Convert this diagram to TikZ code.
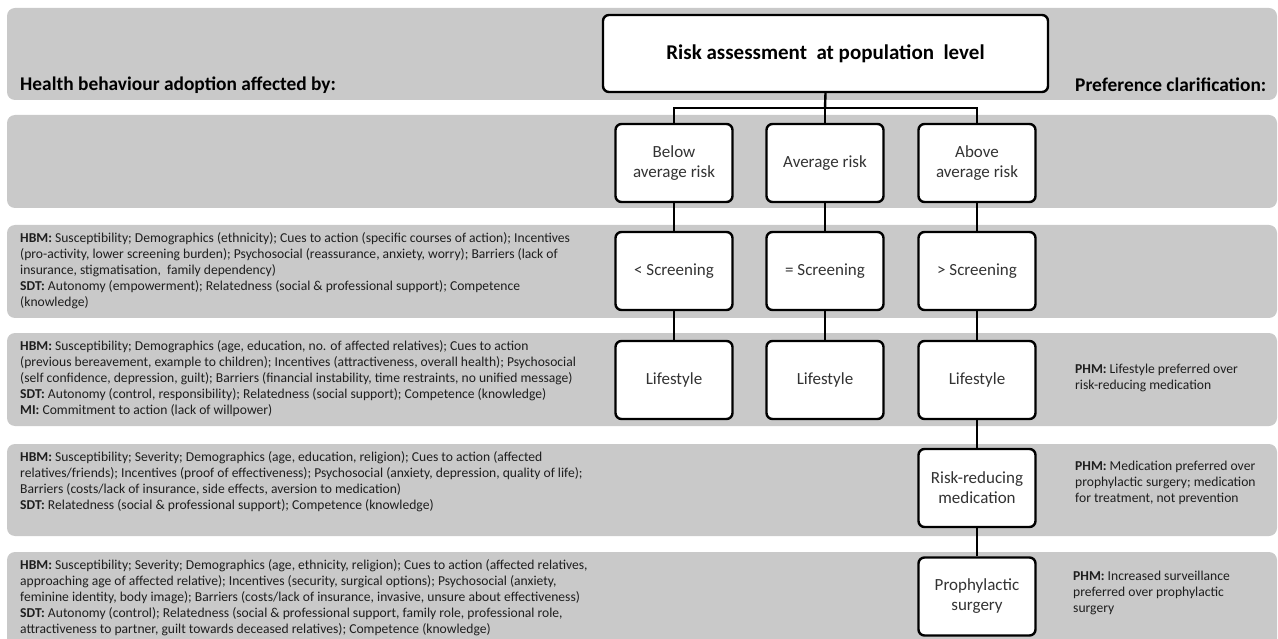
\documentclass[tikz,border=0pt]{standalone}
\usepackage{fontspec}
\setmainfont{Carlito}
\usepackage{tikz}
\usepackage{xcolor}

\begin{document}
\begin{tikzpicture}[x=1pt,y=-1pt,
  riskbox/.style={draw,line width=2.4pt,rounded corners=6pt,fill=white,minimum width=117pt,minimum height=78pt,align=center,text=boxink,font=\fontsize{17}{20}\selectfont},
  bandtext/.style={anchor=north west,inner sep=0pt,align=left,text=bandink,font=\fontsize{13.6}{16}\selectfont},
  headtext/.style={anchor=west,inner sep=0pt,text=black,font=\bfseries\fontsize{19.4}{22}\selectfont},
  link/.style={line width=2.4pt}]
\definecolor{bandgray}{HTML}{C9C9C9}
\definecolor{bandink}{HTML}{1E1E1E}
\definecolor{boxink}{HTML}{333333}
\useasboundingbox (0,0) rectangle (1278,639);
\fill[white] (0,0) rectangle (1278,639);
  \foreach \ytop/\ybot in {8/100,115/208,225/318,333/426,444/536,552/650}
  {  \fill[bandgray,rounded corners=8pt] (7,\ytop) rectangle (1277,\ybot);}

\node[headtext] (hbahead) at (20,85) {Health behaviour adoption affected by:};
\node[headtext] (prefhead) at (1075,85) {Preference clarification:};

\node[riskbox,minimum width=445pt,minimum height=77pt,text=black,font=\bfseries\fontsize{21}{24}\selectfont] (popu) at (825.5,53.5) {Risk assessment\ \ at population\ \ level};

  \foreach \name/\txt/\xpos in {below/{Below\\average risk}/674,avg/{Average risk}/825,above/{Above\\average risk}/977}
  {  \node[riskbox] (\name) at (\xpos,163) {\txt};}
  \foreach \name/\txt/\xpos in {scrlow/{< Screening}/674,scravg/{= Screening}/825,scrhigh/{> Screening}/977}
  {  \node[riskbox] (\name) at (\xpos,271) {\txt};}
  \foreach \name/\xpos in {lifelow/674,lifeavg/825,lifehigh/977}
  {  \node[riskbox] (\name) at (\xpos,380) {Lifestyle};}
\node[riskbox] (med) at (977,488) {Risk-reducing\\medication};
\node[riskbox] (surg) at (977,596.5) {Prophylactic\\surgery};

\coordinate (fork) at (825,108);
\draw[link] (popu.south) -- (fork);
\draw[link] (below.north) |- (fork) -| (above.north);
\draw[link] (fork) -- (avg.north);
  \foreach \up/\down in {below/scrlow,avg/scravg,above/scrhigh,scrlow/lifelow,scravg/lifeavg,scrhigh/lifehigh,lifehigh/med,med/surg}
  {  \draw[link] (\up) -- (\down);}

\node[bandtext] (hbmscr) at (20,232) {\textbf{HBM:} Susceptibility;\ Demographics (ethnicity); Cues to action\ (specific courses of action);\ Incentives\\
(pro-activity, lower screening burden); Psychosocial (reassurance, anxiety, worry); Barriers (lack of\\
insurance, stigmatisation,\ \ family dependency)\\
\textbf{SDT:} Autonomy (empowerment); Relatedness (social \& professional support); Competence\\
(knowledge)};
\node[bandtext] (hbmlife) at (20,340) {\textbf{HBM:} Susceptibility;\ Demographics (age, education, no. of affected relatives); Cues to action\\
(previous bereavement, example to children); Incentives (attractiveness,\ overall health); Psychosocial\\
(self confidence, depression, guilt); Barriers (financial\ instability,\ time\ restraints, no unified message)\\
\textbf{SDT:} Autonomy (control, responsibility); Relatedness (social support); Competence (knowledge)\\
\textbf{MI:} Commitment\ to action (lack of willpower)};
\node[bandtext] (hbmmed) at (20,451) {\textbf{HBM:} Susceptibility;\ Severity; Demographics (age, education, religion); Cues to action (affected\\
relatives/friends); Incentives (proof of effectiveness); Psychosocial (anxiety, depression, quality of life);\\
Barriers (costs/lack of insurance, side effects, aversion to medication)\\
\textbf{SDT:} Relatedness (social \& professional support); Competence (knowledge)};
\node[bandtext] (hbmsurg) at (20,559) {\textbf{HBM:} Susceptibility;\ Severity; Demographics (age, ethnicity, religion); Cues to action (affected relatives,\\
approaching age of affected relative); Incentives (security, surgical options); Psychosocial (anxiety,\\
feminine identity, body image);\ Barriers (costs/lack of insurance, invasive,\ unsure about effectiveness)\\
\textbf{SDT:} Autonomy (control); Relatedness (social \& professional support, family role, professional role,\\
attractiveness to partner, guilt towards deceased relatives); Competence (knowledge)};

\node[bandtext] (phmlife) at (1075,364) {\textbf{PHM:} Lifestyle preferred over\\risk-reducing medication};
\node[bandtext] (phmmed) at (1075,461) {\textbf{PHM:} Medication\ preferred over\\prophylactic surgery; medication\\for treatment,\ not prevention};
\node[bandtext] (phmsurg) at (1073,571) {\textbf{PHM:} Increased surveillance\\preferred over prophylactic\\surgery};
\end{tikzpicture}
\end{document}
